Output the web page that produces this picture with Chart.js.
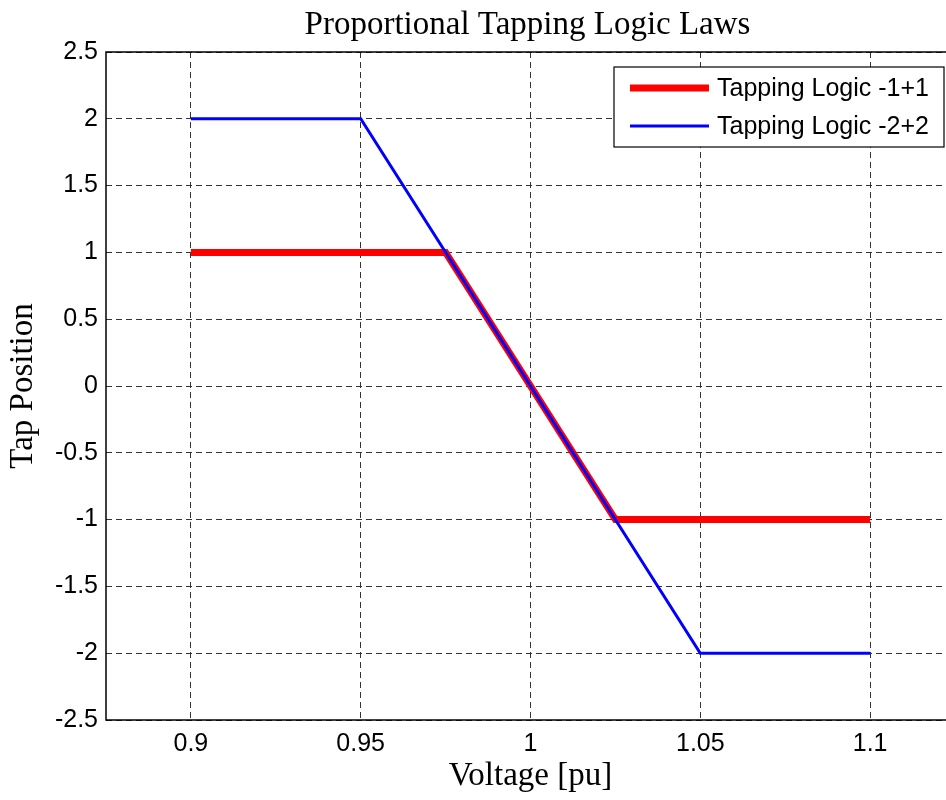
<!DOCTYPE html>
<html>
<head>
<meta charset="utf-8">
<script src="https://cdn.jsdelivr.net/npm/chart.js@4"></script>
<style>
  html, body { margin: 0; padding: 0; background: #fff; overflow: hidden; }
  #wrap { width: 966px; height: 800px; }
</style>
</head>
<body>
<div id="wrap"><canvas id="tapChart"></canvas></div>
<script>
// data
const voltsLogic1 = [0.9, 0.975, 1.025, 1.1];
const tapsLogic1 = [1, 1, -1, -1];
const voltsLogic2 = [0.9, 0.95, 1.05, 1.1];
const tapsLogic2 = [2, 2, -2, -2];
const xTicks = [0.9, 0.95, 1, 1.05, 1.1];
const yTicks = [-2.5, -2, -1.5, -1, -0.5, 0, 0.5, 1, 1.5, 2, 2.5];
const seriesNames = ['Tapping Logic -1+1', 'Tapping Logic -2+2'];

const toPoints = (xs, ys) => xs.map((x, i) => ({ x: x, y: ys[i] }));

// title, box and legend drawn MATLAB style
const frame = {
    id: 'frame',
    afterDatasetsDraw(chart) {
        const { ctx, chartArea: a } = chart;
        ctx.save();
        ctx.strokeStyle = '#000';
        ctx.lineWidth = 1.5;
        ctx.strokeRect(a.left, a.top, a.right - a.left, a.bottom - a.top);

        ctx.fillStyle = '#000';
        ctx.font = '33px "Liberation Serif"';
        ctx.textAlign = 'center';
        ctx.textBaseline = 'alphabetic';
        ctx.fillText('Proportional Tapping Logic Laws', (a.left + a.right) / 2 - 3, 34);

        // legend
        const lx = 614, ly = 67, lw = 330, lh = 80;
        ctx.fillStyle = '#fff';
        ctx.fillRect(lx, ly, lw, lh);
        ctx.lineWidth = 1.2;
        ctx.strokeRect(lx, ly, lw, lh);
        const colors = ['#ff0000', '#0000ff'];
        const widths = [7, 3];
        ctx.font = '25px "Liberation Sans"';
        ctx.textAlign = 'left';
        ctx.textBaseline = 'middle';
        seriesNames.forEach((name, i) => {
            const yy = ly + 21 + i * 38;
            ctx.strokeStyle = colors[i];
            ctx.lineWidth = widths[i];
            ctx.beginPath();
            ctx.moveTo(630, yy);
            ctx.lineTo(709, yy);
            ctx.stroke();
            ctx.fillStyle = '#000';
            ctx.fillText(name, 717, yy + 1);
        });
        ctx.restore();
    }
};

const ctx = document.getElementById('tapChart').getContext('2d');
new Chart(ctx, {
    type: 'scatter',
    data: {
        datasets: [{
            label: seriesNames[0],
            data: toPoints(voltsLogic1, tapsLogic1),
            showLine: true,
            borderColor: '#ff0000',
            borderWidth: 7,
            pointRadius: 0,
            order: 2
        }, {
            label: seriesNames[1],
            data: toPoints(voltsLogic2, tapsLogic2),
            showLine: true,
            borderColor: '#0000ff',
            borderWidth: 3,
            pointRadius: 0,
            order: 1
        }]
    },
    options: {
        responsive: true,
        maintainAspectRatio: false,
        animation: false,
        layout: { padding: { top: 52, right: 11, left: 0, bottom: 0 } },
        plugins: {
            legend: { display: false },
            tooltip: { enabled: false }
        },
        scales: {
            x: {
                type: 'linear',
                min: 0.875,
                max: 1.125,
                afterBuildTicks: s => { s.ticks = xTicks.map(v => ({ value: v })); },
                afterFit: s => { s.height = 80; },
                grid: { color: '#333', drawTicks: false, lineWidth: 1 },
                border: { display: false, dash: [6, 4] },
                ticks: {
                    color: '#000',
                    padding: 9,
                    font: { family: 'Liberation Sans', size: 25 },
                    callback: v => String(v)
                },
                title: {
                    display: true,
                    text: 'Voltage [pu]',
                    color: '#000',
                    font: { family: 'Liberation Serif', size: 33 },
                    padding: { top: 0 }
                }
            },
            y: {
                type: 'linear',
                min: -2.5,
                max: 2.5,
                afterBuildTicks: s => { s.ticks = yTicks.map(v => ({ value: v })); },
                afterFit: s => { s.width = 106; },
                grid: { color: '#333', drawTicks: false, lineWidth: 1 },
                border: { display: false, dash: [6, 4] },
                ticks: {
                    color: '#000',
                    padding: 8,
                    font: { family: 'Liberation Sans', size: 25 },
                    callback: v => String(v)
                },
                title: {
                    display: true,
                    text: 'Tap Position',
                    color: '#000',
                    font: { family: 'Liberation Serif', size: 33 },
                    padding: { bottom: 0 }
                }
            }
        }
    },
    plugins: [frame]
});
</script>
</body>
</html>
